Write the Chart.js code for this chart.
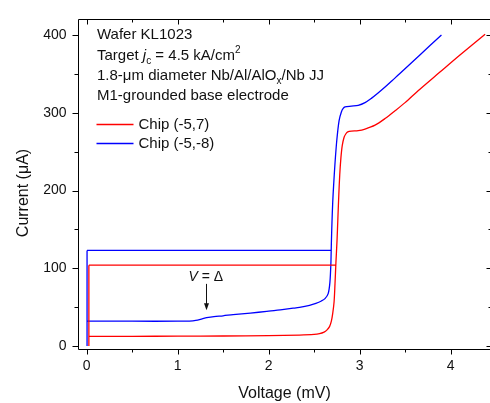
<!DOCTYPE html>
<html>
<head>
<meta charset="utf-8">
<title>KL1023 I-V</title>
<script src="https://cdn.jsdelivr.net/npm/chart.js@4.4.0/dist/chart.umd.min.js"></script>
<style>
  html, body { margin: 0; padding: 0; background: #fff; overflow: hidden; }
  canvas { display: block; }
</style>
</head>
<body>
<canvas id="iv-chart" width="495" height="403"></canvas>
<script>
// I-V sweeps, voltage in mV and current in uA.
// null splits a path: zero-voltage branch | switching jump | subgap -> gap rise -> normal branch
const redV = [0.025, 0.025, null, 0.025, 2.74, null,
  0.025, 0.5, 1.0, 1.5, 2.0, 2.34, 2.5, 2.56, 2.61, 2.64, 2.67, 2.69,
  2.705, 2.72, 2.73, 2.74, 2.752, 2.762, 2.772, 2.782, 2.795, 2.81, 2.83, 2.85, 2.87, 2.91, 2.985,
  3.06, 3.17, 3.28, 3.39, 3.50, 3.66, 3.88, 4.10, 4.38];
const redI = [0, 104, null, 104, 104, null,
  12.5, 12.6, 12.8, 13.0, 13.4, 14.2, 15.0, 16, 18, 20.5, 25, 32,
  42, 57, 80, 107, 135, 165, 195, 220, 242, 258, 268.5, 273, 275.5, 276.5, 277,
  279, 284, 292.5, 302.5, 313, 330, 352, 374, 401];

const blueV = [0.005, 0.005, null, 0.005, 2.685, null,
  0.005, 0.5, 1.0, 1.13, 1.2, 1.27, 1.32, 1.4, 1.5, 1.61, 1.8,
  1.98, 2.15, 2.27, 2.34, 2.45, 2.52, 2.58, 2.62, 2.655, 2.674, 2.685, 2.69, 2.697, 2.705, 2.715,
  2.73, 2.75, 2.775, 2.80, 2.82, 2.84, 2.91, 2.985, 3.06, 3.13, 3.20, 3.28, 3.36, 3.44, 3.66, 3.90];
const blueI = [0, 123, null, 123, 123, null,
  32, 32, 32, 32.2, 33, 35, 36.5, 38, 39, 40.5, 42.5,
  44.6, 47, 48.7, 49.8, 52.5, 55, 58, 61, 67.5, 82, 107, 132, 160, 185, 207,
  235, 265, 290, 301, 305.5, 307.5, 308.5, 309.5, 313, 318.5, 325, 333, 341.5, 350, 374, 400];

const seriesNames = ['Chip (-5,7)', 'Chip (-5,-8)'];
const seriesColors = ['#ff0000', '#0000ff'];

const xMajor = [0, 1, 2, 3, 4];
const xMinor = [0.5, 1.5, 2.5, 3.5];
const yMajor = [0, 100, 200, 300, 400];
const yMinor = [50, 150, 250, 350];

// gap marker: arrow at V = delta
const gapV = 1.31;
const gapLabelI = 84;
const gapArrowTop = 80;
const gapArrowTip = 46;

const FONT = '"Liberation Sans", Arial, Helvetica, sans-serif';

const toPoints = (vs, is) => vs.map((v, i) => ({ x: v, y: is[i] }));

// axis frame on four sides with major/minor ticks
const frameTicks = {
  id: 'frameTicks',
  afterDatasetsDraw(chart) {
    const { ctx, chartArea: a, scales: { x, y } } = chart;
    const L = Math.round(a.left) + 0.5, R = Math.round(a.right) + 0.5;
    const T = Math.round(a.top) + 0.5, B = Math.round(a.bottom) - 0.5;
    ctx.save();
    ctx.strokeStyle = '#000';
    ctx.lineWidth = 1;
    ctx.beginPath();
    ctx.moveTo(L, T); ctx.lineTo(R, T); ctx.lineTo(R, B); ctx.lineTo(L, B); ctx.closePath();
    ctx.stroke();
    const seg = (x1, y1, x2, y2) => { ctx.beginPath(); ctx.moveTo(x1, y1); ctx.lineTo(x2, y2); ctx.stroke(); };
    const xt = (vals, len) => vals.forEach(v => {
      const p = Math.round(x.getPixelForValue(v)) + 0.5;
      seg(p, B, p, B + len);
      seg(p, T, p, T + len);
    });
    const yt = (vals, len) => vals.forEach(v => {
      const p = Math.round(y.getPixelForValue(v)) + 0.5;
      seg(L, p, L - len, p);
      seg(R, p, R - len, p);
    });
    xt(xMajor, 5); xt(xMinor, 3);
    yt(yMajor, 6); yt(yMinor, 4);
    ctx.restore();
  }
};

function drawRuns(ctx, x, y, runs) {
  runs.forEach(r => {
    ctx.font = r.font;
    ctx.fillText(r.text, x, y + (r.dy || 0));
    x += ctx.measureText(r.text).width;
  });
}

// y title, sample description, legend and the gap arrow
const notes = {
  id: 'notes',
  afterDraw(chart) {
    const { ctx, scales: { x, y } } = chart;
    const f = '15px ' + FONT, fi = 'italic 15px ' + FONT, fs = '10px ' + FONT;
    ctx.save();
    ctx.fillStyle = '#111';

    ctx.save();
    ctx.translate(23.5, 193);
    ctx.rotate(-Math.PI / 2);
    ctx.font = '16px ' + FONT;
    ctx.textAlign = 'center';
    ctx.textBaseline = 'middle';
    ctx.fillText('Current (μA)', 0, 0);
    ctx.restore();

    ctx.textBaseline = 'alphabetic';
    ctx.textAlign = 'left';
    const x0 = 97;
    drawRuns(ctx, x0, 38.5, [{ font: f, text: 'Wafer KL1023' }]);
    drawRuns(ctx, x0, 60, [
      { font: f, text: 'Target ' }, { font: fi, text: 'j' }, { font: fs, text: 'c', dy: 4 },
      { font: f, text: ' = 4.5 kA/cm' }, { font: fs, text: '2', dy: -7 }
    ]);
    drawRuns(ctx, x0, 80, [
      { font: f, text: '1.8-μm diameter Nb/Al/AlO' }, { font: fs, text: 'x', dy: 4 },
      { font: f, text: '/Nb JJ' }
    ]);
    drawRuns(ctx, x0, 99.5, [{ font: f, text: 'M1-grounded base electrode' }]);

    chart.data.datasets.forEach((ds, i) => {
      const ly = 124.5 + i * 19;
      ctx.strokeStyle = ds.borderColor;
      ctx.lineWidth = 1.3;
      ctx.beginPath(); ctx.moveTo(96.5, ly); ctx.lineTo(133.5, ly); ctx.stroke();
      drawRuns(ctx, 138.5, ly + 4.8, [{ font: f, text: ds.label }]);
    });

    // V = delta label with arrow
    const gx = x.getPixelForValue(gapV);
    const parts = [{ font: 'italic 14px ' + FONT, text: 'V' }, { font: '14px ' + FONT, text: ' = Δ' }];
    let w = 0;
    parts.forEach(p => { ctx.font = p.font; w += ctx.measureText(p.text).width; });
    drawRuns(ctx, gx - w / 2, y.getPixelForValue(gapLabelI), parts);
    const ax = Math.round(gx) + 0.5;
    const y1 = y.getPixelForValue(gapArrowTop), y2 = y.getPixelForValue(gapArrowTip);
    ctx.strokeStyle = '#111';
    ctx.lineWidth = 1;
    ctx.beginPath(); ctx.moveTo(ax, y1); ctx.lineTo(ax, y2 - 5); ctx.stroke();
    ctx.beginPath();
    ctx.moveTo(ax, y2); ctx.lineTo(ax - 2.5, y2 - 7); ctx.lineTo(ax + 2.5, y2 - 7); ctx.closePath();
    ctx.fill();
    ctx.restore();
  }
};

new Chart(document.getElementById('iv-chart'), {
  type: 'scatter',
  data: {
    datasets: [
      { label: seriesNames[0], data: toPoints(redV, redI), borderColor: seriesColors[0] },
      { label: seriesNames[1], data: toPoints(blueV, blueI), borderColor: seriesColors[1] }
    ].map(d => Object.assign(d, {
      showLine: true, spanGaps: false, pointRadius: 0, borderWidth: 1.3, tension: 0.3, fill: false
    }))
  },
  options: {
    responsive: false,
    animation: false,
    devicePixelRatio: 1,
    layout: { padding: { top: 10, right: 3.5, left: 0, bottom: 0 } },
    plugins: { legend: { display: false }, tooltip: { enabled: false } },
    scales: {
      x: {
        type: 'linear', min: -0.1, max: 4.45,
        grid: { display: false, drawTicks: false }, border: { display: false },
        afterBuildTicks: s => { s.ticks = xMajor.map(v => ({ value: v })); },
        afterFit: s => { s.height = 53; },
        ticks: { color: '#111', padding: 8, font: { family: FONT, size: 14 } },
        title: {
          display: true, text: 'Voltage (mV)', color: '#111',
          font: { family: FONT, size: 16 }, padding: { top: 0, bottom: 0 }
        }
      },
      y: {
        type: 'linear', min: -5, max: 420,
        grid: { display: false, drawTicks: false }, border: { display: false },
        afterBuildTicks: s => { s.ticks = yMajor.map(v => ({ value: v })); },
        afterFit: s => { s.width = 77.5; },
        ticks: { color: '#111', padding: 11, font: { family: FONT, size: 14 } }
      }
    }
  },
  plugins: [frameTicks, notes]
});
</script>
</body>
</html>
